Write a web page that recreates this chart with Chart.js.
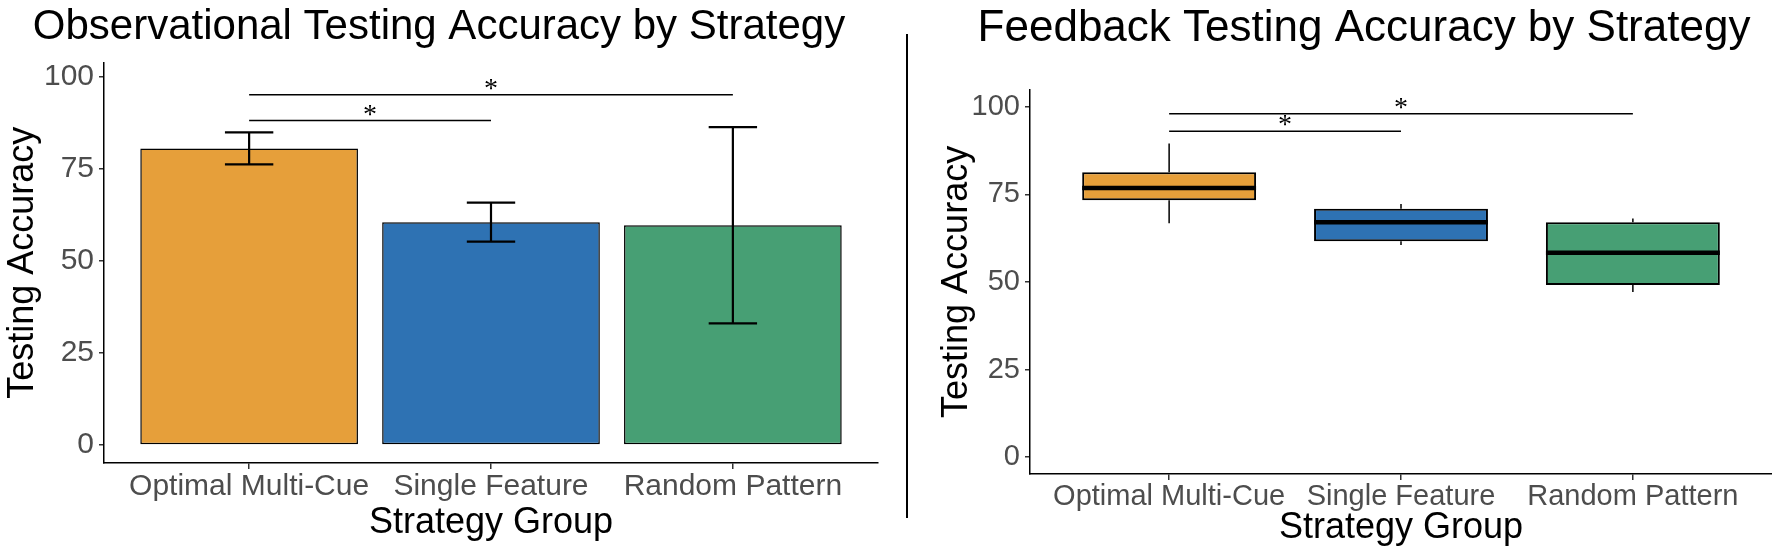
<!DOCTYPE html>
<html>
<head>
<meta charset="utf-8">
<script src="https://cdn.jsdelivr.net/npm/chart.js@4.4.1/dist/chart.umd.min.js"></script>
<style>
  html, body { margin: 0; padding: 0; background: #fff; overflow: hidden; }
  #wrap { position: relative; width: 1772px; height: 550px; }
  .panel { position: absolute; top: 0; height: 550px; }
  #left { left: 0; width: 900px; }
  #right { left: 910px; width: 862px; }
  #divider { position: absolute; left: 906px; top: 34px; width: 2px; height: 484px; background: #000; }
</style>
</head>
<body>
<div id="wrap">
  <div class="panel" id="left"><canvas id="obsChart"></canvas></div>
  <div id="divider"></div>
  <div class="panel" id="right"><canvas id="fbChart"></canvas></div>
</div>
<script>
const categories = ['Optimal Multi-Cue', 'Single Feature', 'Random Pattern'];
const groupColors = ['#E69F3A', '#2E72B3', '#479F74'];
const yTicks = [0, 25, 50, 75, 100];

// observational testing: mean accuracy + error bar limits
const obsMeans = [80.5, 60.5, 59.7];
const obsErrLow = [76.2, 55.2, 33.0];
const obsErrHigh = [84.9, 65.8, 86.3];

// feedback testing: box plot summaries
const fbLow = [66.7, 60.5, 47.1];
const fbQ1 = [73.3, 61.6, 49.1];
const fbMedian = [76.8, 67.0, 58.3];
const fbQ3 = [81.3, 70.9, 67.0];
const fbHigh = [89.5, 72.2, 68.1];

// significance brackets: [from group, to group, height]
const obsSig = [[1, 2, 88.1], [1, 3, 95.1]];
const fbSig = [[1, 2, 93.0], [1, 3, 98.0]];

Chart.defaults.font.family = "'Liberation Sans', Arial, sans-serif";
Chart.defaults.color = '#000';

function makeScales(cfg) {
    return {
        x: {
            type: 'linear',
            min: 0.4,
            max: 3.6,
            offset: false,
            afterBuildTicks: s => { s.ticks = categories.map((c, i) => ({ value: i + 1 })); },
            afterFit: s => { s.height = cfg.xHeight; },
            ticks: {
                callback: v => categories[v - 1],
                color: '#4d4d4d',
                font: { size: cfg.tickSize },
                padding: 0,
                maxRotation: 0,
                autoSkip: false
            },
            grid: { display: true, offset: false, drawOnChartArea: false, drawTicks: true, tickLength: 6, color: '#333', lineWidth: 1.5 },
            border: { display: true, color: '#000', width: 1.5 },
            title: { display: true, text: 'Strategy Group', color: '#000', font: { size: 36 }, padding: { top: 0, bottom: cfg.xTitlePad } }
        },
        y: {
            min: cfg.yMin,
            max: cfg.yMax,
            afterBuildTicks: s => { s.ticks = yTicks.map(v => ({ value: v })); },
            afterFit: s => { s.width = cfg.yWidth; },
            ticks: { color: '#4d4d4d', font: { size: cfg.tickSize }, padding: 5 },
            grid: { display: true, drawOnChartArea: false, drawTicks: true, tickLength: 5, color: '#333', lineWidth: 1.5 },
            border: { display: true, color: '#000', width: 1.5 },
            title: { display: true, text: 'Testing Accuracy', color: '#000', font: { size: 36 }, padding: { top: cfg.yTitlePad, bottom: 0 } }
        }
    };
}

function sigPlugin(brackets) {
    return {
        id: 'sigBrackets',
        afterDatasetsDraw(chart) {
            const { ctx, scales: { x, y } } = chart;
            ctx.save();
            ctx.strokeStyle = '#000';
            ctx.lineWidth = 1.5;
            ctx.fillStyle = '#000';
            ctx.font = "28px 'Liberation Serif', 'Times New Roman', serif";
            ctx.textAlign = 'center';
            ctx.textBaseline = 'alphabetic';
            brackets.forEach(([a, b, h]) => {
                const x1 = x.getPixelForValue(a);
                const x2 = x.getPixelForValue(b);
                const py = y.getPixelForValue(h);
                ctx.beginPath();
                ctx.moveTo(x1, py);
                ctx.lineTo(x2, py);
                ctx.stroke();
                ctx.fillText('*', (x1 + x2) / 2, py + 2);
            });
            ctx.restore();
        }
    };
}

const errorBarPlugin = {
    id: 'errorBars',
    afterDatasetsDraw(chart) {
        const { ctx, scales: { x, y } } = chart;
        ctx.save();
        ctx.strokeStyle = '#000';
        ctx.lineWidth = 2.2;
        obsMeans.forEach((m, i) => {
            const cx = x.getPixelForValue(i + 1);
            const half = x.getPixelForValue(i + 1.1) - cx;
            const top = y.getPixelForValue(obsErrHigh[i]);
            const bot = y.getPixelForValue(obsErrLow[i]);
            ctx.beginPath();
            ctx.moveTo(cx, top); ctx.lineTo(cx, bot);
            ctx.moveTo(cx - half, top); ctx.lineTo(cx + half, top);
            ctx.moveTo(cx - half, bot); ctx.lineTo(cx + half, bot);
            ctx.stroke();
        });
        ctx.restore();
    }
};

const boxPlugin = {
    id: 'boxParts',
    beforeDatasetsDraw(chart) {
        // whiskers, drawn under the boxes
        const { ctx, scales: { x, y } } = chart;
        ctx.save();
        ctx.strokeStyle = '#000';
        ctx.lineWidth = 1.5;
        fbMedian.forEach((m, i) => {
            const cx = x.getPixelForValue(i + 1);
            ctx.beginPath();
            ctx.moveTo(cx, y.getPixelForValue(fbHigh[i]));
            ctx.lineTo(cx, y.getPixelForValue(fbQ3[i]));
            ctx.moveTo(cx, y.getPixelForValue(fbQ1[i]));
            ctx.lineTo(cx, y.getPixelForValue(fbLow[i]));
            ctx.stroke();
        });
        ctx.restore();
    },
    afterDatasetsDraw(chart) {
        // median lines
        const { ctx, scales: { x, y } } = chart;
        ctx.save();
        ctx.strokeStyle = '#000';
        ctx.lineWidth = 4.5;
        fbMedian.forEach((m, i) => {
            const x1 = x.getPixelForValue(i + 1 - 0.375);
            const x2 = x.getPixelForValue(i + 1 + 0.375);
            const py = y.getPixelForValue(m);
            ctx.beginPath();
            ctx.moveTo(x1, py); ctx.lineTo(x2, py);
            ctx.stroke();
        });
        ctx.restore();
    }
};

new Chart(document.getElementById('obsChart'), {
    type: 'bar',
    data: {
        datasets: [{
            data: obsMeans.map((v, i) => ({ x: i + 1, y: v })),
            backgroundColor: groupColors,
            borderColor: '#000',
            borderWidth: 1.5,
            borderSkipped: false,
            categoryPercentage: 1,
            barPercentage: 0.9
        }]
    },
    options: {
        responsive: true,
        maintainAspectRatio: false,
        animation: false,
        layout: { padding: { left: 0, right: 22, top: 0, bottom: 0 } },
        scales: makeScales({ yMin: -4.9, yMax: 103.9, yWidth: 104, xHeight: 87, xTitlePad: 5, yTitlePad: 1, tickSize: 30 }),
        plugins: {
            legend: { display: false },
            tooltip: { enabled: false },
            title: {
                display: true,
                text: 'Observational Testing Accuracy by Strategy',
                color: '#000',
                font: { size: 42, weight: 'normal' },
                padding: { top: 2, bottom: 10 }
            }
        }
    },
    plugins: [errorBarPlugin, sigPlugin(obsSig)]
});

new Chart(document.getElementById('fbChart'), {
    type: 'bar',
    data: {
        datasets: [{
            data: fbQ1.map((v, i) => ({ x: i + 1, y: [v, fbQ3[i]] })),
            backgroundColor: groupColors,
            borderColor: '#000',
            borderWidth: 2,
            borderSkipped: false,
            categoryPercentage: 1,
            barPercentage: 0.75
        }]
    },
    options: {
        responsive: true,
        maintainAspectRatio: false,
        animation: false,
        layout: { padding: { left: 46, right: 0, top: 0, bottom: 0 } },
        scales: makeScales({ yMin: -4.8, yMax: 104.8, yWidth: 74, xHeight: 76, xTitlePad: 0, yTitlePad: -21, tickSize: 29 }),
        plugins: {
            legend: { display: false },
            tooltip: { enabled: false },
            title: {
                display: true,
                text: 'Feedback Testing Accuracy by Strategy',
                color: '#000',
                font: { size: 44, weight: 'normal' },
                padding: { top: 2, bottom: 35 }
            }
        }
    },
    plugins: [boxPlugin, sigPlugin(fbSig)]
});
</script>
</body>
</html>
